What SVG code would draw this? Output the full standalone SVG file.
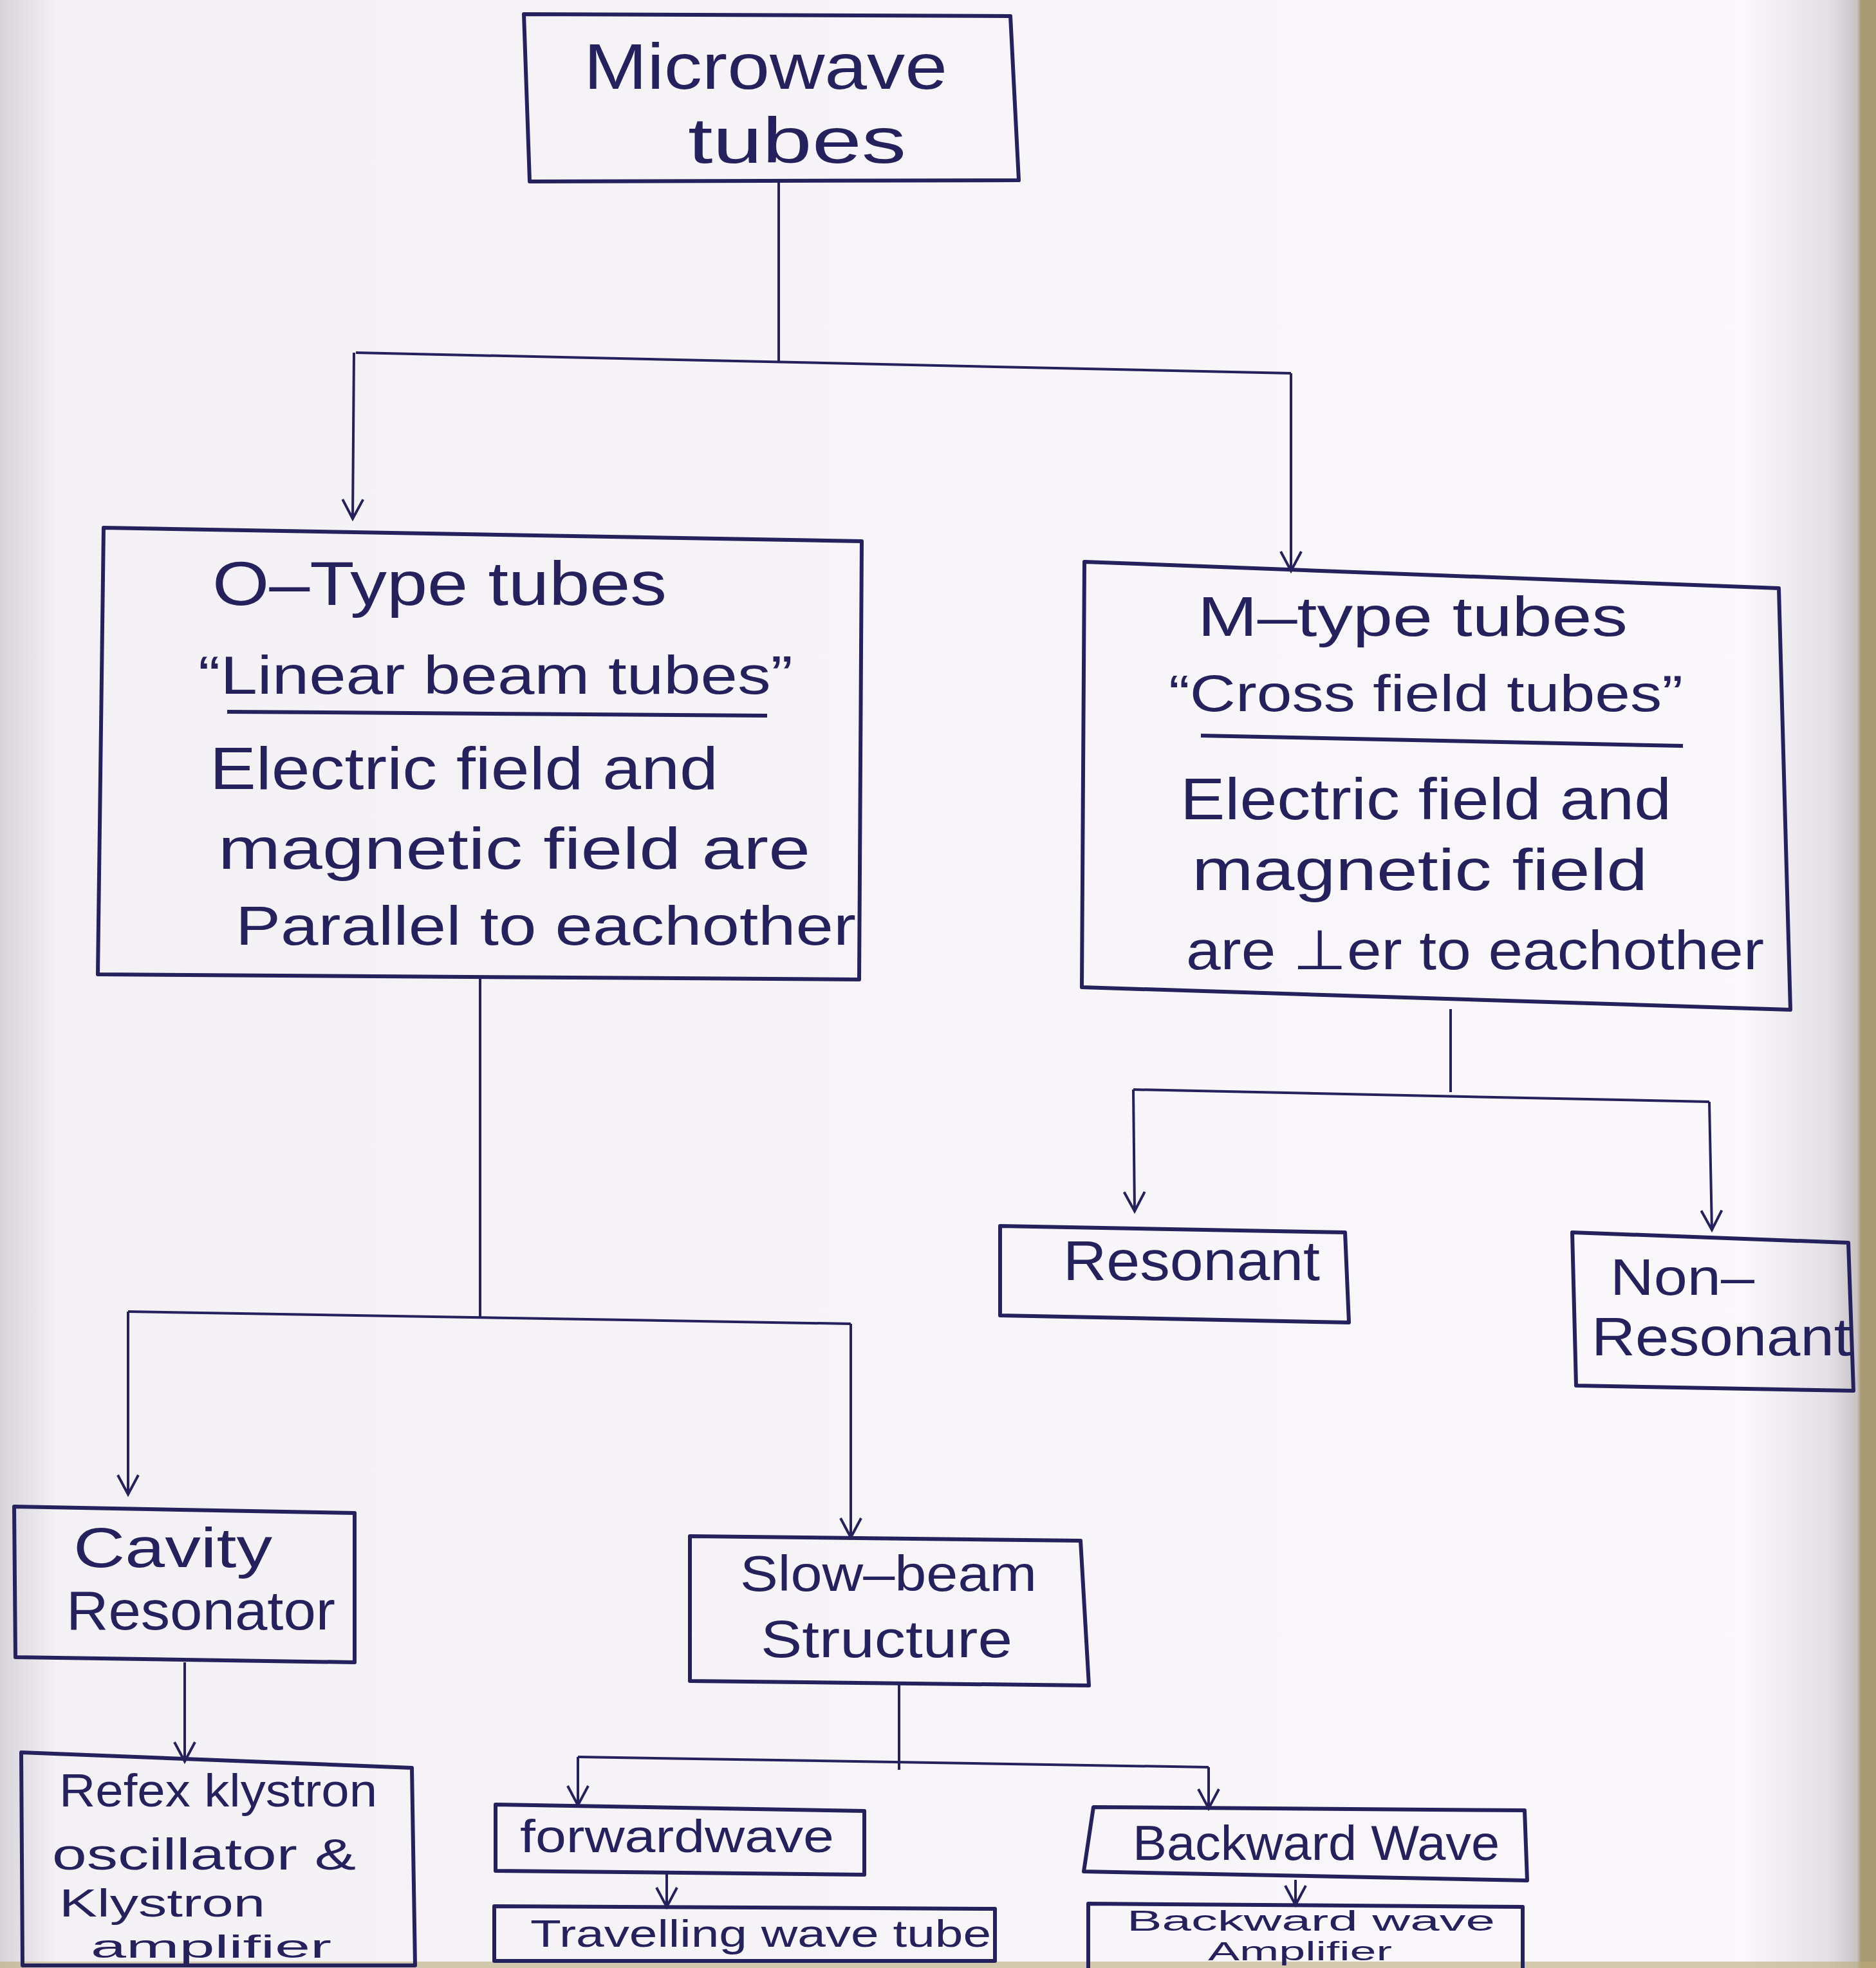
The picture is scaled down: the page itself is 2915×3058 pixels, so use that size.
<svg xmlns="http://www.w3.org/2000/svg" width="2915" height="3058" viewBox="0 0 2915 3058">
<defs>
<linearGradient id="bgL" x1="0" y1="0" x2="1" y2="0">
<stop offset="0" stop-color="#d6d3da"/>
<stop offset="0.03" stop-color="#f4f1f5"/>
<stop offset="0.93" stop-color="#fbf8fb"/>
<stop offset="0.975" stop-color="#e3e0e6"/>
<stop offset="0.99" stop-color="#c9c3c6"/>
<stop offset="0.992" stop-color="#a89a72"/>
<stop offset="1" stop-color="#a89a72"/>
</linearGradient>
<marker id="arr" markerUnits="userSpaceOnUse" markerWidth="50" markerHeight="50" viewBox="-40 -25 50 50" refX="0" refY="0" orient="auto">
<path d="M-30,-16 L0,0 L-30,16" fill="none" stroke="#25215c" stroke-width="4"/>
</marker>
<style>
.box{fill:none;stroke:#25215c;stroke-width:6;stroke-linejoin:round}
.ln{fill:none;stroke:#25215c;stroke-width:4}
.t{font-family:"Liberation Sans","DejaVu Sans",sans-serif;fill:#25215c}
</style>
</defs>
<rect x="0" y="0" width="2915" height="3058" fill="url(#bgL)"/>
<rect x="0" y="3048" width="2915" height="10" fill="#b9ab7c" opacity="0.6"/>

<g id="connectors">
<path class="ln" d="M1210,282 L1210,562"/>
<path class="ln" d="M553,548 L2006,580"/>
<path class="ln" d="M550,548 L548,806" marker-end="url(#arr)"/>
<path class="ln" d="M2006,580 L2006,887" marker-end="url(#arr)"/>
<path class="ln" d="M746,1521 L746,2048"/>
<path class="ln" d="M199,2038 L1322,2057"/>
<path class="ln" d="M199,2038 L199,2322" marker-end="url(#arr)"/>
<path class="ln" d="M1322,2057 L1322,2389" marker-end="url(#arr)"/>
<path class="ln" d="M2254,1568 L2254,1697"/>
<path class="ln" d="M1761,1693 L2656,1712"/>
<path class="ln" d="M1761,1693 L1763,1882" marker-end="url(#arr)"/>
<path class="ln" d="M2656,1712 L2660,1911" marker-end="url(#arr)"/>
<path class="ln" d="M287,2583 L287,2737" marker-end="url(#arr)"/>
<path class="ln" d="M1397,2614 L1397,2750"/>
<path class="ln" d="M898,2730 L1878,2746"/>
<path class="ln" d="M898,2730 L898,2805" marker-end="url(#arr)"/>
<path class="ln" d="M1878,2746 L1878,2810" marker-end="url(#arr)"/>
<path class="ln" d="M1036,2912 L1036,2963" marker-end="url(#arr)"/>
<path class="ln" d="M2013,2921 L2013,2960" marker-end="url(#arr)"/>
</g>

<g id="microwave">
<polygon class="box" points="814,22 1570,25 1583,280 823,282"/>
<text class="t" x="907" y="138" font-size="100" textLength="565" lengthAdjust="spacingAndGlyphs">Microwave</text>
<text class="t" x="1069" y="253" font-size="100" textLength="339" lengthAdjust="spacingAndGlyphs">tubes</text>
</g>

<g id="otype">
<polygon class="box" points="161,820 1339,841 1335,1522 152,1514"/>
<text class="t" x="330" y="940" font-size="96" textLength="706" lengthAdjust="spacingAndGlyphs">O–Type tubes</text>
<text class="t" x="308" y="1078" font-size="84" textLength="924" lengthAdjust="spacingAndGlyphs">“Linear beam tubes”</text>
<path class="box" d="M353,1106 L1192,1112"/>
<text class="t" x="326" y="1226" font-size="92" textLength="790" lengthAdjust="spacingAndGlyphs">Electric field and</text>
<text class="t" x="339" y="1350" font-size="90" textLength="920" lengthAdjust="spacingAndGlyphs">magnetic field are</text>
<text class="t" x="366" y="1468" font-size="86" textLength="964" lengthAdjust="spacingAndGlyphs">Parallel to eachother</text>
</g>

<g id="mtype">
<polygon class="box" points="1685,873 2764,914 2782,1569 1681,1534"/>
<text class="t" x="1861" y="988" font-size="88" textLength="668" lengthAdjust="spacingAndGlyphs">M–type tubes</text>
<text class="t" x="1816" y="1105" font-size="80" textLength="799" lengthAdjust="spacingAndGlyphs">“Cross field tubes”</text>
<path class="box" d="M1866,1143 L2615,1159"/>
<text class="t" x="1834" y="1273" font-size="90" textLength="763" lengthAdjust="spacingAndGlyphs">Electric field and</text>
<text class="t" x="1852" y="1383" font-size="90" textLength="708" lengthAdjust="spacingAndGlyphs">magnetic field</text>
<text class="t" x="1843" y="1506" font-size="86" textLength="898" lengthAdjust="spacingAndGlyphs">are ⊥er to eachother</text>
</g>

<g id="resonant">
<polygon class="box" points="1554,1905 2090,1915 2096,2055 1554,2044"/>
<text class="t" x="1652" y="1989" font-size="88" textLength="399" lengthAdjust="spacingAndGlyphs">Resonant</text>
</g>

<g id="nonresonant">
<polygon class="box" points="2443,1915 2872,1931 2880,2161 2449,2153"/>
<text class="t" x="2502" y="2012" font-size="80" textLength="224" lengthAdjust="spacingAndGlyphs">Non–</text>
<text class="t" x="2473" y="2106" font-size="84" textLength="403" lengthAdjust="spacingAndGlyphs">Resonant</text>
</g>

<g id="cavity">
<polygon class="box" points="22,2341 551,2351 551,2583 24,2575"/>
<text class="t" x="114" y="2435" font-size="88" textLength="309" lengthAdjust="spacingAndGlyphs">Cavity</text>
<text class="t" x="103" y="2532" font-size="86" textLength="418" lengthAdjust="spacingAndGlyphs">Resonator</text>
</g>

<g id="slowbeam">
<polygon class="box" points="1072,2387 1679,2394 1692,2619 1072,2612"/>
<text class="t" x="1150" y="2472" font-size="78" textLength="461" lengthAdjust="spacingAndGlyphs">Slow–beam</text>
<text class="t" x="1182" y="2575" font-size="82" textLength="391" lengthAdjust="spacingAndGlyphs">Structure</text>
</g>

<g id="reflex">
<polygon class="box" points="33,2723 640,2747 645,3054 35,3054"/>
<text class="t" x="92" y="2807" font-size="72" textLength="494" lengthAdjust="spacingAndGlyphs">Refex klystron</text>
<text class="t" x="81" y="2905" font-size="68" textLength="472" lengthAdjust="spacingAndGlyphs">oscillator &amp;</text>
<text class="t" x="92" y="2978" font-size="62" textLength="320" lengthAdjust="spacingAndGlyphs">Klystron</text>
<text class="t" x="141" y="3042" font-size="50" textLength="374" lengthAdjust="spacingAndGlyphs">amplifier</text>
</g>

<g id="forwardwave">
<polygon class="box" points="770,2804 1343,2814 1343,2913 770,2907"/>
<text class="t" x="808" y="2878" font-size="72" textLength="488" lengthAdjust="spacingAndGlyphs">forwardwave</text>
</g>

<g id="twt">
<polygon class="box" points="768,2962 1546,2966 1546,3047 768,3047"/>
<text class="t" x="824" y="3025" font-size="60" textLength="716" lengthAdjust="spacingAndGlyphs">Travelling wave tube</text>
</g>

<g id="backwardwave">
<polygon class="box" points="1699,2808 2369,2813 2373,2922 1684,2908"/>
<text class="t" x="1760" y="2890" font-size="76" textLength="570" lengthAdjust="spacingAndGlyphs">Backward Wave</text>
</g>

<g id="bwa">
<path class="box" d="M1691,3058 L1691,2958 L2366,2963 L2366,3058"/>
<text class="t" x="1751" y="3000" font-size="44" textLength="572" lengthAdjust="spacingAndGlyphs">Backward wave</text>
<text class="t" x="1877" y="3046" font-size="40" textLength="286" lengthAdjust="spacingAndGlyphs">Amplifier</text>
</g>
</svg>
